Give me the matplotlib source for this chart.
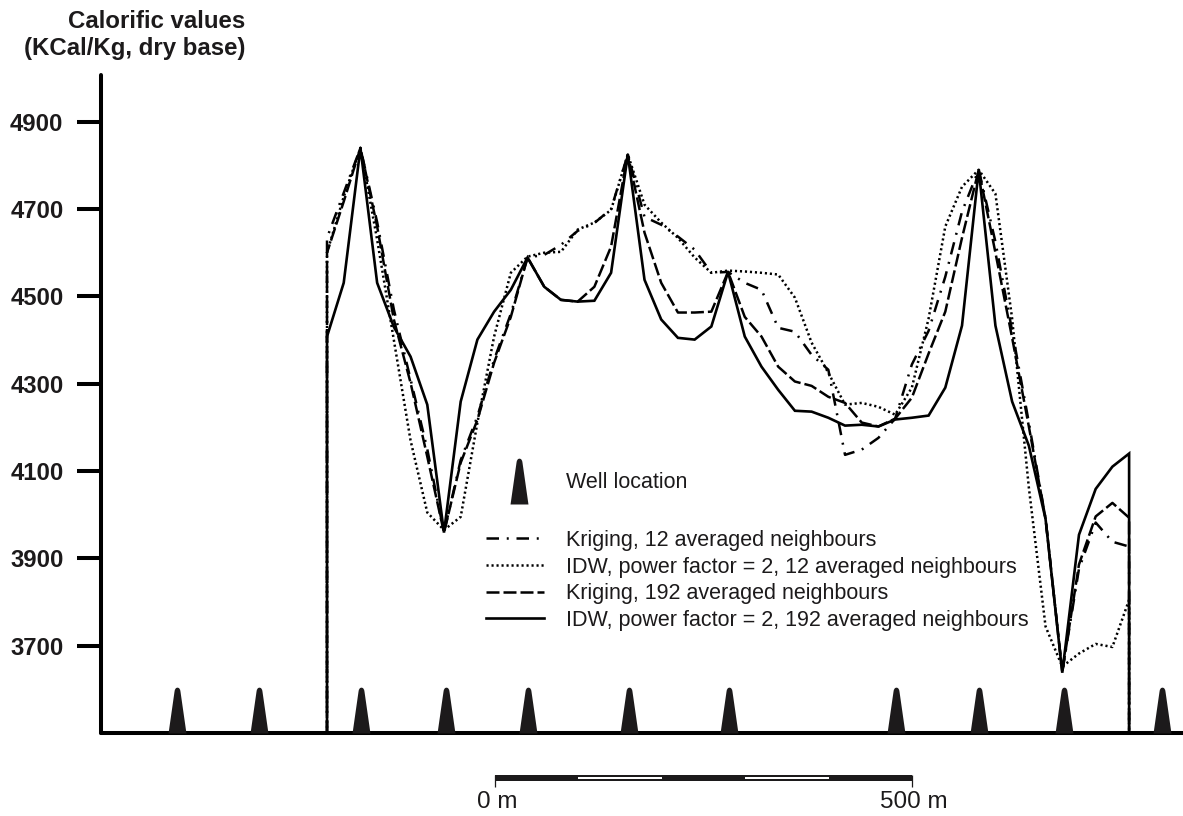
import matplotlib
matplotlib.use("Agg", force=True)
import matplotlib.pyplot as plt
import numpy as np
from matplotlib.markers import MarkerStyle
from matplotlib.path import Path

plt.rcParams["font.family"] = ["Liberation Sans", "DejaVu Sans"]

INK = "#1c1a1b"

# section distance in metres, sampled every 20 m
section_start = 270.5
section_step = 20.0
baseline = 3500

kriging_12 = [
    4634, 4737, 4840, 4670, 4470, 4310, 4150, 3959, 4125, 4225, 4355, 4460, 4589,
    4595, 4618, 4650, 4668, 4700, 4825, 4682, 4664, 4637, 4607, 4554, 4556, 4531,
    4515, 4428, 4419, 4366, 4332, 4137, 4149, 4176, 4220, 4344, 4421, 4545, 4694,
    4790, 4625, 4421, 4211, 3991, 3640, 3876, 3982, 3938, 3927,
]
idw_12 = [
    4600, 4728, 4840, 4630, 4400, 4170, 4005, 3965, 3995, 4211, 4408, 4554, 4591,
    4600, 4602, 4653, 4669, 4698, 4825, 4710, 4669, 4634, 4589, 4554, 4559, 4557,
    4554, 4550, 4497, 4394, 4325, 4252, 4256, 4247, 4229, 4291, 4449, 4660, 4751,
    4790, 4735, 4449, 4062, 3744, 3652, 3682, 3704, 3697, 3805,
]
kriging_192 = [
    4600, 4717, 4840, 4660, 4447, 4302, 4133, 3959, 4119, 4217, 4348, 4453, 4589,
    4522, 4492, 4488, 4522, 4614, 4825, 4646, 4531, 4463, 4463, 4465, 4556, 4453,
    4408, 4339, 4305, 4295, 4270, 4256, 4211, 4202, 4220, 4268, 4369, 4465, 4634,
    4790, 4600, 4405, 4202, 3991, 3640, 3886, 3996, 4027, 3993,
]
idw_192 = [
    4408, 4531, 4840, 4531, 4430, 4362, 4252, 3959, 4259, 4401, 4465, 4515, 4589,
    4522, 4492, 4488, 4490, 4554, 4825, 4538, 4447, 4405, 4401, 4431, 4556, 4408,
    4339, 4286, 4238, 4236, 4222, 4204, 4206, 4202, 4218, 4222, 4227, 4291, 4433,
    4790, 4433, 4259, 4158, 3990, 3638, 3954, 4059, 4110, 4140,
]

series_labels = [
    "Kriging, 12 averaged neighbours",
    "IDW, power factor = 2, 12 averaged neighbours",
    "Kriging, 192 averaged neighbours",
    "IDW, power factor = 2, 192 averaged neighbours",
]
well_positions = [91, 189, 311, 413, 511, 632, 752, 952, 1051, 1153, 1270]
y_ticks = [3700, 3900, 4100, 4300, 4500, 4700, 4900]
scale_edges = [0, 100, 200, 300, 400]


def well_marker() -> MarkerStyle:
    # cone with a rounded tip, origin on the base line
    verts = [(-9, 0), (-3, 42), (-2.6, 46), (0, 46), (2.6, 46), (3, 42), (9, 0), (-9, 0)]
    codes = [Path.MOVETO, Path.LINETO, Path.CURVE3, Path.CURVE3, Path.CURVE3, Path.CURVE3, Path.LINETO, Path.CLOSEPOLY]
    return MarkerStyle(Path(verts, codes))


def px_rect(x0: float, y0: float, x1: float, y1: float) -> list[float]:
    return [x0 / 1183, 1 - y1 / 816, (x1 - x0) / 1183, (y1 - y0) / 816]


fig = plt.figure(figsize=(11.83, 8.16), dpi=100)
ax = fig.add_axes(px_rect(101, 75, 1183, 733))
ax.set_xlim(0, 1295)
ax.set_ylim(baseline, 5007)

x = section_start + section_step * np.arange(len(idw_192))
x_closed = np.r_[x[0], x, x[-1]]
styles = [
    (kriging_12, (0, (5, 3.1, 0.8, 3.1)), 1.8),
    (idw_12, (0, (0.85, 1.15)), 1.8),
    (kriging_192, (0, (5.2, 1.6)), 1.8),
    (idw_192, "-", 1.9),
]
for (values, style, width), label in zip(styles, series_labels):
    y_closed = np.r_[baseline, values, baseline]
    ax.plot(x_closed, y_closed, color="black", linestyle=style, linewidth=width, label=label, solid_joinstyle="miter", zorder=3)

marker = well_marker()
ax.scatter(well_positions, [baseline] * len(well_positions), marker=marker, s=4356, color=INK, linewidths=0, zorder=4, clip_on=False)

for side in ("top", "right"):
    ax.spines[side].set_visible(False)
for side in ("left", "bottom"):
    ax.spines[side].set_linewidth(2.9)
    ax.spines[side].set_color("black")
    ax.spines[side].set_capstyle("round")
ax.set_xticks([])
ax.set_yticks(y_ticks)
ax.tick_params(axis="y", length=17, width=2.9, pad=10, color="black")
for tick_label in ax.get_yticklabels():
    tick_label.set_fontsize(17.2)
    tick_label.set_fontweight("bold")
    tick_label.set_color(INK)

fig.text(245 / 1183, 1 - 21 / 816, "Calorific values", ha="right", va="center", fontsize=17.3, fontweight="bold", color=INK)
fig.text(245 / 1183, 1 - 49 / 816, "(KCal/Kg, dry base)", ha="right", va="center", fontsize=17.3, fontweight="bold", color=INK)

# legend block
legend = ax.legend(
    loc="upper left",
    bbox_to_anchor=(486 / 1183, 1 - 530 / 816),
    bbox_transform=fig.transFigure,
    frameon=False,
    fontsize=15.5,
    handlelength=2.7,
    handletextpad=1.0,
    labelspacing=0.26,
    borderpad=0,
    borderaxespad=0,
    labelcolor=INK,
)
fig.text(566 / 1183, 1 - 482 / 816, "Well location", ha="left", va="center", fontsize=15.5, color=INK)
key_ax = fig.add_axes(px_rect(500, 457, 538, 504))
key_ax.axis("off")
key_ax.set_xlim(-1, 1)
key_ax.set_ylim(0, 1)
key_ax.scatter([0], [0], marker=marker, s=4356, color=INK, linewidths=0, clip_on=False)

# scale bar
bar_ax = fig.add_axes(px_rect(495, 775, 912, 781))
bar_ax.set_xlim(0, 500)
bar_ax.set_ylim(0, 1)
bar_ax.axis("off")
bar_ax.bar(scale_edges, [1] * len(scale_edges), width=100, align="edge", color=INK, linewidth=0)
bar_ax.bar(scale_edges[1::2], [0.42] * 2, width=100, bottom=0.3, align="edge", color="white", linewidth=0)
bar_ax.vlines([0, 500], -1.0, 1, color=INK, linewidth=0.9, clip_on=False)
fig.text(497 / 1183, 1 - 802 / 816, "0 m", ha="center", va="center", fontsize=17.5, color=INK)
fig.text(914 / 1183, 1 - 802 / 816, "500 m", ha="center", va="center", fontsize=17.5, color=INK)

fig.savefig("out.png", dpi=100)
plt.close(fig)
